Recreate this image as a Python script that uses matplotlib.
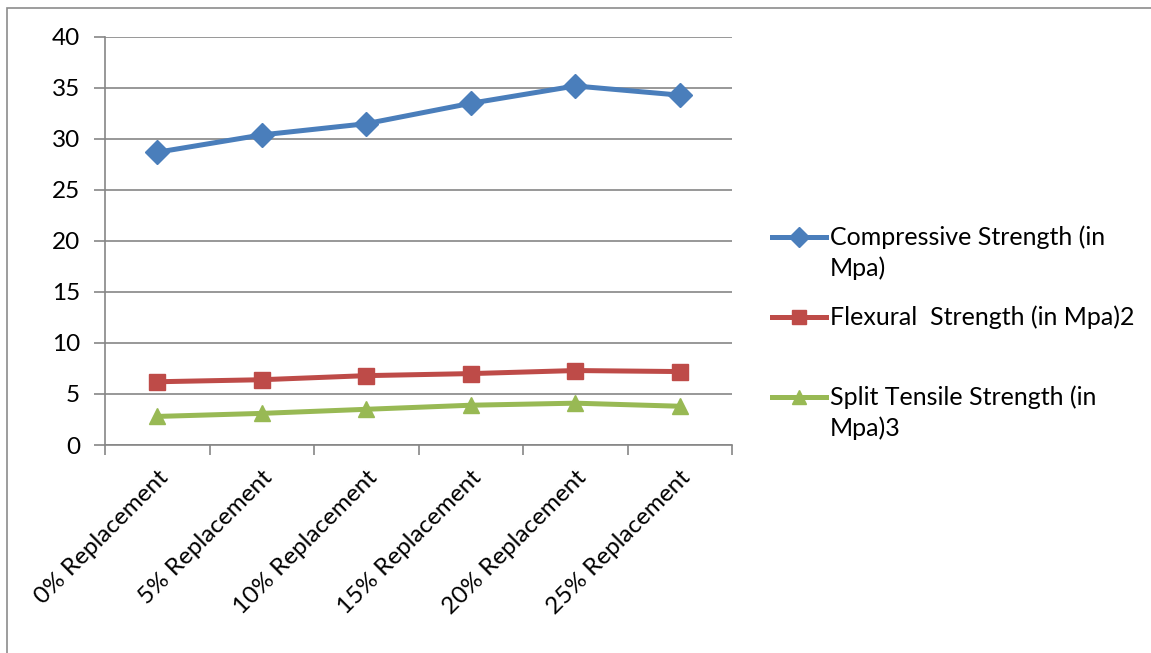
import matplotlib.pyplot as plt
from matplotlib.lines import Line2D
from matplotlib.patches import Rectangle

categories = ['0% Replacement', '5% Replacement', '10% Replacement',
              '15% Replacement', '20% Replacement', '25% Replacement']
compressive = [28.7, 30.4, 31.5, 33.5, 35.2, 34.3]
flexural = [6.2, 6.4, 6.8, 7.0, 7.3, 7.2]
split_tensile = [2.8, 3.1, 3.5, 3.9, 4.1, 3.8]

labels = [['Compressive Strength (in', 'Mpa)'],
          ['Flexural  Strength (in Mpa)2'],
          ['Split Tensile Strength (in', 'Mpa)3']]
colors = ['#4A7EBB', '#BE4B48', '#98B954']
markers = ['D', 's', '^']
msizes = [12, 11, 12]

plt.rcParams['font.family'] = ['Lato', 'DejaVu Sans']

W, H = 1151, 653
fig = plt.figure(figsize=(W/100, H/100), dpi=100)
ax = fig.add_axes([105/W, 1-445/H, (732-105)/W, (445-37)/H])

x = list(range(len(categories)))
for vals, c, m, ms in zip([compressive, flexural, split_tensile], colors, markers, msizes):
    ax.plot(x, vals, color=c, lw=3.6, marker=m, markersize=ms,
            markerfacecolor=c, markeredgecolor=c, zorder=3)

ax.set_xlim(-0.5, len(categories) - 0.5)
ax.set_ylim(0, 40)
ax.set_yticks(range(0, 41, 5))
ax.yaxis.grid(True, color='#868686', lw=1.2)
ax.set_axisbelow(True)

for s in ['top', 'right']:
    ax.spines[s].set_visible(False)
for s in ['left', 'bottom']:
    ax.spines[s].set_color('#868686')
    ax.spines[s].set_linewidth(1.2)

# category labels at centers, tick marks at boundaries
ax.set_xticks(x)
ax.set_xticklabels(categories, rotation=45, ha='right', rotation_mode='anchor',
                   fontsize=17.5)
ax.tick_params(axis='x', length=0, pad=16)
ax.set_xticks([i - 0.5 for i in range(len(categories) + 1)], minor=True)
ax.tick_params(axis='x', which='minor', length=7, color='#868686', width=1.2)
ax.tick_params(axis='y', length=8, color='#868686', width=1.2, labelsize=17.5, pad=10)

# legend drawn at figure level
entry_y = [237, 317, 397]
line_gap = 31
for y, c, m, lab in zip(entry_y, colors, markers, labels):
    fy = 1 - y/H
    fig.add_artist(Line2D([772/W, 826/W], [fy, fy], color=c, lw=3.6,
                          transform=fig.transFigure))
    fig.add_artist(Line2D([799/W], [fy], color=c, marker=m, markersize=10,
                          transform=fig.transFigure))
    for k, txt in enumerate(lab):
        fig.text(830/W, 1 - (y + k*line_gap)/H, txt, fontsize=18,
                 va='center', ha='left')

# chart frame
fig.add_artist(Rectangle((7/W, -0.05), 1.2, 1 - 8/H + 0.05,
                         transform=fig.transFigure, fill=False,
                         edgecolor='#8c8c8c', lw=1.2))

fig.savefig('out.png', dpi=100)
